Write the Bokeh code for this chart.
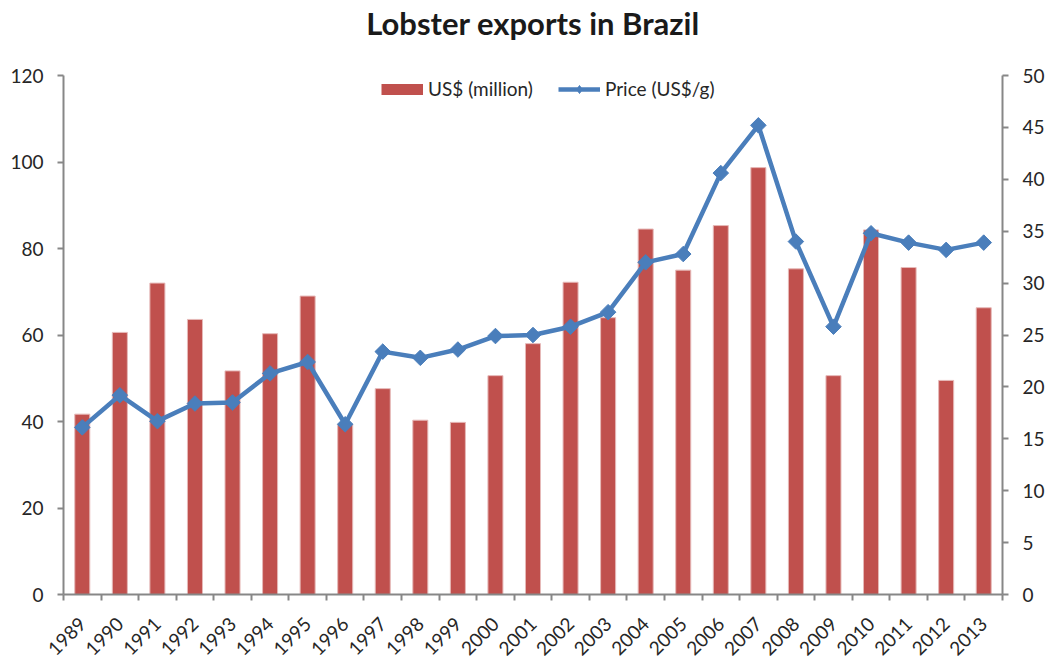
import numpy as np
from bokeh.plotting import figure
from bokeh.models import (Range1d, LinearAxis, FixedTicker, Legend, LegendItem,
                          ColumnDataSource)
from bokeh.embed import file_html
from bokeh.resources import INLINE

# ---- data ----
years = [1989, 1990, 1991, 1992, 1993, 1994, 1995, 1996, 1997, 1998, 1999, 2000,
         2001, 2002, 2003, 2004, 2005, 2006, 2007, 2008, 2009, 2010, 2011, 2012, 2013]
exports_musd = [41.7, 60.6, 72.0, 63.6, 51.7, 60.3, 69.0, 39.3, 47.6, 40.3, 39.8, 50.6,
                58.0, 72.2, 64.0, 84.5, 75.0, 85.3, 98.7, 75.3, 50.6, 84.3, 75.6, 49.5, 66.3]
price_usd_g = [16.1, 19.2, 16.7, 18.4, 18.5, 21.3, 22.4, 16.4, 23.4, 22.8, 23.6, 24.9,
               25.0, 25.8, 27.2, 32.0, 32.8, 40.6, 45.2, 34.0, 25.8, 34.8, 33.9, 33.2, 33.9]
title_text = "Lobster exports in Brazil"
bar_label = "US$ (million)"
line_label = "Price (US$/g)"
left_ticks = list(range(0, 121, 20))
right_ticks = list(range(0, 51, 5))

# ---- styling ----
FONT = "Lato"
BAR_COLOR = "#C0504D"
LINE_COLOR = "#4A7EBB"
AXIS_COLOR = "#878787"
TEXT_COLOR = "#262626"

xpos = [i + 0.5 for i in range(len(years))]
src = ColumnDataSource(dict(x=xpos, exports=exports_musd, price=price_usd_g))

p = figure(width=1049, height=664, output_backend="svg", toolbar_location=None,
           x_range=Range1d(0, len(years)), y_range=Range1d(0, 120),
           min_border_left=63, min_border_right=47, min_border_top=74,
           min_border_bottom=68)
p.outline_line_color = None
p.xgrid.visible = False
p.ygrid.visible = False
p.extra_y_ranges = {"price": Range1d(0, 50)}

# grab the default axes before adding any more
xa = p.below[0]
ya = p.left[0]

# chart title, drawn as the label of a bare top axis so it sits in the top margin
ta = LinearAxis(ticker=FixedTicker(ticks=[], minor_ticks=[]), axis_label=title_text)
ta.axis_line_color = None
ta.major_tick_line_color = None
ta.minor_tick_line_color = None
ta.major_tick_out = 0
ta.minor_tick_out = 0
ta.major_label_text_font_size = "0px"
ta.axis_label_standoff = 34
ta.axis_label_text_font = FONT
ta.axis_label_text_font_style = "bold"
ta.axis_label_text_font_size = "31px"
ta.axis_label_text_color = "#1a1a1a"
p.add_layout(ta, "above")

bars = p.vbar(x="x", top="exports", width=0.4, source=src, fill_color=BAR_COLOR,
              line_color="#E6B9B8", line_width=1)
ln = p.line(x="x", y="price", source=src, y_range_name="price",
            line_color=LINE_COLOR, line_width=4.5)
mk = p.scatter(x="x", y="price", source=src, y_range_name="price", marker="square",
               angle=np.pi / 4, size=11, fill_color=LINE_COLOR, line_color=LINE_COLOR)

# legend-only swatches (no visible data points)
nan = [float("nan")]
swatch = p.line(x=nan, y=nan, line_color=BAR_COLOR, line_width=11, line_cap="butt")
leg_mk = p.scatter(x=nan, y=nan, marker="diamond", size=20,
                   fill_color=LINE_COLOR, line_color=LINE_COLOR)

# x axis
xa.ticker = FixedTicker(ticks=xpos, minor_ticks=list(range(len(years) + 1)))
xa.major_label_overrides = {xv: str(yr) for xv, yr in zip(xpos, years)}
xa.major_label_orientation = np.pi / 4
xa.major_tick_line_color = None
xa.major_tick_out = 0
xa.major_tick_in = 0
xa.minor_tick_out = 6
xa.minor_tick_in = 0
xa.minor_tick_line_color = AXIS_COLOR
xa.minor_tick_line_width = 2
xa.major_label_standoff = 20

# left axis
ya.ticker = FixedTicker(ticks=left_ticks, minor_ticks=[])
ya.major_tick_out = 6
ya.major_tick_in = 0
ya.major_label_standoff = 14

# right axis
ra = LinearAxis(y_range_name="price", ticker=FixedTicker(ticks=right_ticks, minor_ticks=[]))
ra.major_tick_out = 6
ra.major_tick_in = 0
ra.major_label_standoff = 14
p.add_layout(ra, "right")

for ax in [xa, ya, ra]:
    ax.axis_line_color = AXIS_COLOR
    ax.axis_line_width = 2
    ax.major_label_text_font = FONT
    ax.major_label_text_font_size = "19px"
    ax.major_label_text_color = TEXT_COLOR
for ax in [ya, ra]:
    ax.major_tick_line_color = AXIS_COLOR
    ax.major_tick_line_width = 2
    ax.minor_tick_line_color = None

legend = Legend(items=[LegendItem(label=bar_label, renderers=[swatch]),
                       LegendItem(label=line_label, renderers=[ln, leg_mk])],
                orientation="horizontal", location=(318, 494),
                glyph_width=42, glyph_height=20, label_standoff=5, spacing=25,
                padding=0, margin=0, border_line_color=None,
                background_fill_alpha=0,
                label_text_font=FONT, label_text_font_size="19px",
                label_text_color=TEXT_COLOR)
p.add_layout(legend)

open("out.html", "w").write(file_html(p, INLINE))
